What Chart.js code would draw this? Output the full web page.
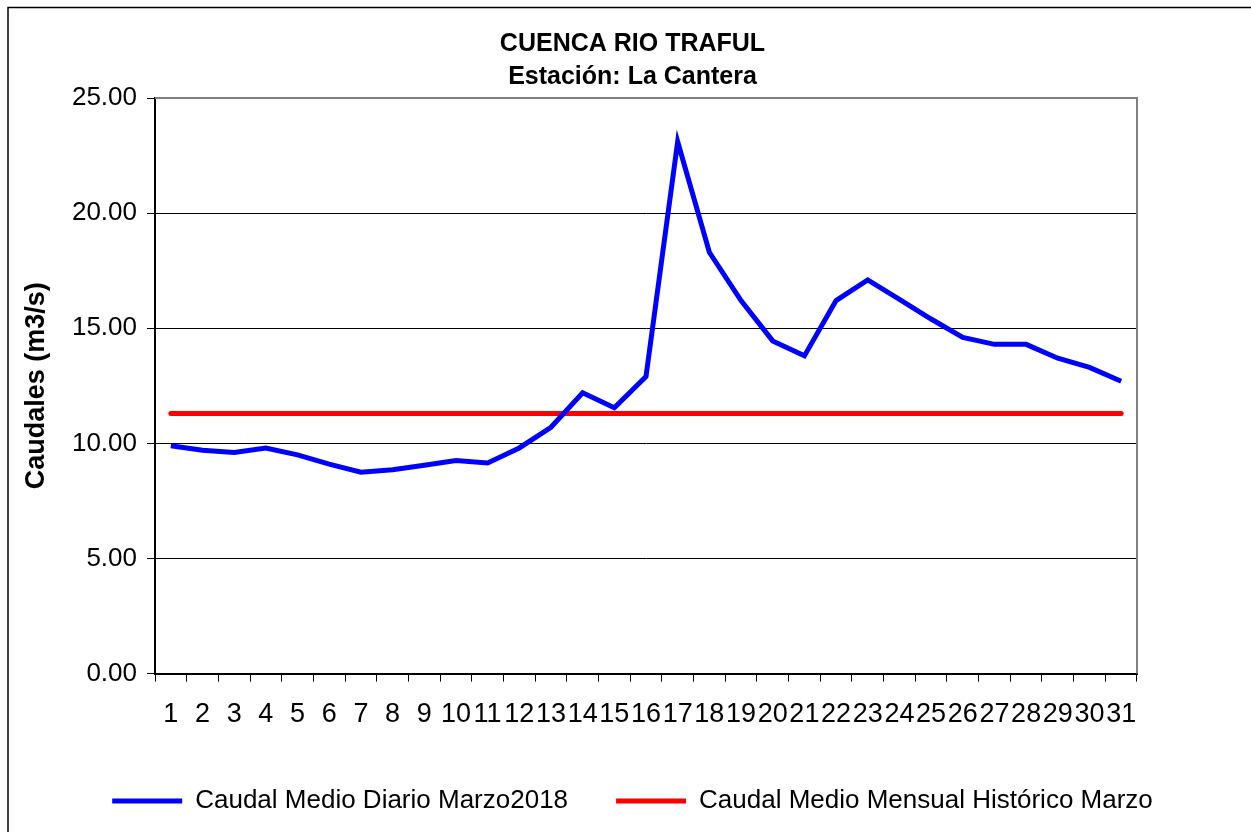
<!DOCTYPE html>
<html>
<head>
<meta charset="utf-8">
<script src="https://cdn.jsdelivr.net/npm/chart.js@4"></script>
<style>
  body { margin: 0; background: #fff; }
  #wrap { width: 1251px; height: 832px; }
</style>
</head>
<body>
<div id="wrap"><canvas id="lineChart"></canvas></div>
<script>
const days = ['1','2','3','4','5','6','7','8','9','10','11','12','13','14','15','16',
              '17','18','19','20','21','22','23','24','25','26','27','28','29','30','31']
const caudalDiario = [9.9, 9.7, 9.6, 9.8, 9.5, 9.1, 8.75, 8.85, 9.05, 9.25, 9.15, 9.8, 10.7,
                      12.2, 11.55, 12.9, 23.1, 18.3, 16.2, 14.45, 13.8, 16.2, 17.1, 16.25,
                      15.4, 14.6, 14.3, 14.3, 13.7, 13.3, 12.7]
const caudalHistorico = 11.3
const historico = days.map(() => caudalHistorico)

const frame = {
    id: 'frame',
    beforeDraw(chart) {
        const ctx = chart.ctx
        ctx.save()
        ctx.fillStyle = '#fff'
        ctx.fillRect(0, 0, chart.width, chart.height)
        ctx.strokeStyle = '#000'
        ctx.lineWidth = 1.5
        ctx.beginPath()
        ctx.moveTo(8, chart.height)
        ctx.lineTo(8, 7.5)
        ctx.lineTo(chart.width, 7.5)
        ctx.stroke()
        ctx.restore()
    },
    afterDatasetsDraw(chart) {
        // gray top/right border of the plot area
        const a = chart.chartArea
        const ctx = chart.ctx
        ctx.save()
        ctx.strokeStyle = '#808080'
        ctx.lineWidth = 2
        ctx.beginPath()
        ctx.moveTo(a.left, a.top)
        ctx.lineTo(a.right, a.top)
        ctx.lineTo(a.right, a.bottom)
        ctx.stroke()
        ctx.restore()
    }
}

const ctx = document.getElementById('lineChart').getContext('2d')
const myChart = new Chart(ctx, {
    type: 'line',
    data: {
        labels: days,
        datasets: [{
            label: 'Caudal Medio Diario Marzo2018',
            data: caudalDiario,
            borderColor: '#0000ff',
            backgroundColor: '#0000ff',
            borderWidth: 5,
            pointRadius: 0,
            tension: 0
        }, {
            label: 'Caudal Medio Mensual Histórico Marzo',
            data: historico,
            borderColor: '#ff0000',
            backgroundColor: '#ff0000',
            borderWidth: 5,
            pointRadius: 0,
            borderCapStyle: 'round'
        }]
    },
    options: {
        responsive: true,
        maintainAspectRatio: false,
        animation: false,
        layout: { padding: { left: 14, right: 0, top: 0, bottom: 8 } },
        plugins: {
            title: {
                display: true,
                text: ['CUENCA RIO TRAFUL', 'Estación: La Cantera'],
                color: '#000',
                font: { family: 'Arial, "Liberation Sans"', size: 25, weight: 'bold', lineHeight: 1.32 },
                padding: { top: 28, bottom: 4 }
            },
            legend: {
                position: 'bottom',
                labels: {
                    color: '#000',
                    font: { family: 'Arial, "Liberation Sans"', size: 26 },
                    usePointStyle: true,
                    pointStyle: 'line',
                    pointStyleWidth: 70,
                    boxHeight: 5,
                    padding: 48
                }
            },
            tooltip: { enabled: false }
        },
        scales: {
            x: {
                offset: true,
                afterFit: s => { s.height -= 8 },
                grid: { offset: true, drawOnChartArea: false, color: '#000', tickLength: 8, tickWidth: 1 },
                border: { color: '#000', width: 2 },
                ticks: {
                    color: '#000',
                    maxRotation: 0,
                    autoSkip: false,
                    padding: 17,
                    font: { family: 'Arial, "Liberation Sans"', size: 27 }
                }
            },
            y: {
                min: 0,
                max: 25,
                afterFit: s => { s.width = 141 },
                grid: { color: '#000', lineWidth: 1, tickLength: 8 },
                border: { color: '#000', width: 2 },
                ticks: {
                    stepSize: 5,
                    color: '#000',
                    padding: 10,
                    font: { family: 'Arial, "Liberation Sans"', size: 26 },
                    callback: v => v.toFixed(2)
                },
                title: {
                    display: true,
                    text: 'Caudales (m3/s)',
                    color: '#000',
                    font: { family: 'Arial, "Liberation Sans"', size: 27, weight: 'bold' },
                    padding: { top: 6, bottom: 0 }
                }
            },
            right: {
                position: 'right',
                afterFit: s => { s.width = 114 },
                grid: { display: false },
                border: { display: false },
                ticks: { display: false }
            }
        }
    },
    plugins: [frame]
})
</script>
</body>
</html>
